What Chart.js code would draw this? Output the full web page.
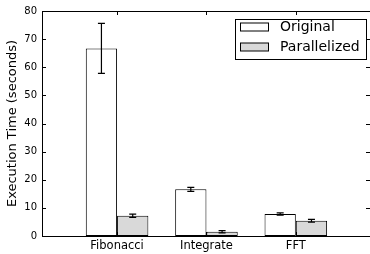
<!DOCTYPE html>
<html>
<head>
<meta charset="utf-8">
<script src="https://cdn.jsdelivr.net/npm/chart.js@4"></script>
<style>
  html, body { margin: 0; padding: 0; background: #fff; }
  #wrap { width: 370px; height: 254px; }
</style>
</head>
<body>
<div id="wrap"><canvas id="myChart" width="370" height="254"></canvas></div>
<script>
// values
const categories = ["Fibonacci", "Integrate", "FFT"];
const originalTimes = [66.7, 16.6, 7.8];
const originalErr = [8.9, 0.7, 0.4];
const parallelTimes = [7.2, 1.5, 5.4];
const parallelErr = [0.6, 0.4, 0.5];
const yTicks = [0, 10, 20, 30, 40, 50, 60, 70, 80];

const FONT = "'DejaVu Sans', sans-serif";

function points(vals) {
  return vals.map((v, i) => ({ x: i + 1, y: v }));
}

// error bars + frame + inward ticks + boxed legend
const extras = {
  id: 'extras',
  afterDatasetsDraw(chart) {
    const ctx = chart.ctx;
    const y = chart.scales.y;
    const errs = [originalErr, parallelErr];
    ctx.save();
    ctx.strokeStyle = '#000';
    ctx.lineWidth = 1.2;
    chart.data.datasets.forEach((ds, d) => {
      chart.getDatasetMeta(d).data.forEach((bar, i) => {
        const v = ds.data[i].y;
        const top = y.getPixelForValue(v + errs[d][i]);
        const bot = y.getPixelForValue(v - errs[d][i]);
        ctx.beginPath();
        ctx.moveTo(bar.x, top); ctx.lineTo(bar.x, bot);
        ctx.moveTo(bar.x - 3.5, top); ctx.lineTo(bar.x + 3.5, top);
        ctx.moveTo(bar.x - 3.5, bot); ctx.lineTo(bar.x + 3.5, bot);
        ctx.stroke();
      });
    });
    ctx.restore();
  },
  afterDraw(chart) {
    const ctx = chart.ctx;
    const a = chart.chartArea;
    const x = chart.scales.x, y = chart.scales.y;
    ctx.save();
    ctx.strokeStyle = '#000';
    ctx.lineWidth = 1;
    ctx.beginPath();
    ctx.moveTo(a.left, a.top + 0.5); ctx.lineTo(a.right, a.top + 0.5);
    yTicks.forEach(t => {
      const py = Math.round(y.getPixelForValue(t)) + 0.5;
      ctx.moveTo(a.left, py); ctx.lineTo(a.left + 4, py);
      ctx.moveTo(a.right, py); ctx.lineTo(a.right - 4, py);
    });
    categories.forEach((c, i) => {
      const px = Math.round(x.getPixelForValue(i + 1)) + 0.5;
      ctx.moveTo(px, a.top); ctx.lineTo(px, a.top + 4);
      ctx.moveTo(px, a.bottom); ctx.lineTo(px, a.bottom - 4);
    });
    ctx.stroke();

    // legend
    const lx = 235.5, ly = 19.5, lw = 131, lh = 40;
    ctx.fillStyle = '#fff';
    ctx.fillRect(lx, ly, lw, lh);
    ctx.strokeRect(lx, ly, lw, lh);
    ctx.font = '14px ' + FONT;
    ctx.textBaseline = 'middle';
    chart.data.datasets.forEach((ds, d) => {
      const cy = 27 + d * 20;
      ctx.fillStyle = ds.backgroundColor;
      ctx.fillRect(240.5, cy - 4, 28, 8);
      ctx.strokeRect(240.5, cy - 4, 28, 8);
      ctx.fillStyle = '#000';
      ctx.fillText(ds.label, 280, cy);
    });
    ctx.restore();
  }
};

new Chart(document.getElementById('myChart').getContext('2d'), {
  type: 'bar',
  data: {
    datasets: [
      {
        label: 'Original',
        data: points(originalTimes),
        backgroundColor: '#ffffff',
        borderColor: '#000000',
        borderWidth: 1,
        borderSkipped: false
      },
      {
        label: 'Parallelized',
        data: points(parallelTimes),
        backgroundColor: '#d9d9d9',
        borderColor: '#000000',
        borderWidth: 1,
        borderSkipped: false
      }
    ]
  },
  options: {
    responsive: false,
    animation: false,
    categoryPercentage: 0.7,
    barPercentage: 1.0,
    layout: { padding: { top: 10, right: 0, left: 0, bottom: 0 } },
    plugins: {
      legend: { display: false },
      tooltip: { enabled: false }
    },
    scales: {
      x: {
        type: 'linear',
        min: 0.16,
        max: 3.83,
        offset: false,
        grid: { display: false, drawTicks: false },
        border: { display: true, color: '#000', width: 1 },
        afterBuildTicks(scale) {
          scale.ticks = categories.map((c, i) => ({ value: i + 1 }));
        },
        afterFit(scale) { scale.height = 18; },
        ticks: {
          color: '#000',
          padding: 3,
          font: { family: FONT, size: 11.5 },
          maxRotation: 0,
          autoSkip: false,
          callback: v => categories[v - 1]
        }
      },
      y: {
        min: 0,
        max: 80,
        grid: { display: false, drawTicks: false },
        border: { display: true, color: '#000', width: 1 },
        afterBuildTicks(scale) {
          scale.ticks = yTicks.map(v => ({ value: v }));
        },
        afterFit(scale) { scale.width = 42; },
        ticks: {
          color: '#000',
          padding: 5,
          font: { family: FONT, size: 10 }
        },
        title: {
          display: true,
          text: 'Execution Time (seconds)',
          color: '#000',
          padding: { top: 4.5, bottom: 0 },
          font: { family: FONT, size: 13 }
        }
      }
    }
  },
  plugins: [extras]
});
</script>
</body>
</html>
